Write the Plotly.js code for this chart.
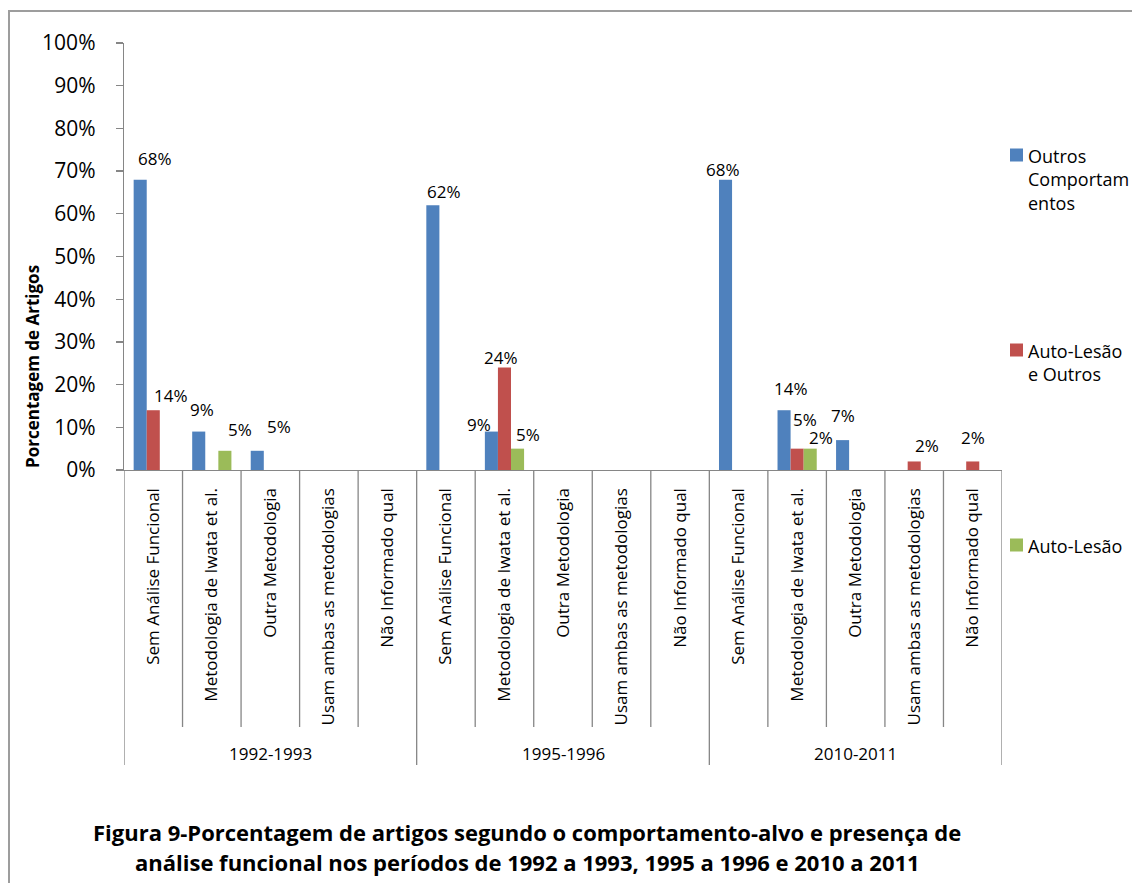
<!DOCTYPE html>
<html>
<head>
<meta charset="utf-8">
<script src="https://cdn.plot.ly/plotly-3.0.1.min.js"></script>
<style>
html,body{margin:0;padding:0;background:#fff;}
#chart{width:1132px;height:883px;}
</style>
</head>
<body>
<div id="chart"></div>
<script>
// ---- data ----
const groups = ['1992-1993', '1995-1996', '2010-2011'];
const methods = ['Sem Análise Funcional', 'Metodologia de Iwata et al.', 'Outra Metodologia', 'Usam ambas as metodologias', 'Não Informado qual'];
const seriesNames = ['Outros Comportamentos', 'Auto-Lesão e Outros', 'Auto-Lesão'];
const legendLabels = ['Outros<br>Comportam<br>entos', 'Auto-Lesão<br>e Outros', 'Auto-Lesão'];
const outros     = [68, 9, 4.5, 0, 0,   62, 9, 0, 0, 0,   68, 14, 7, 0, 0];
const autoOutros = [14, 0, 0, 0, 0,    0, 24, 0, 0, 0,    0, 5, 0, 2, 2];
const autoLesao  = [0, 4.5, 0, 0, 0,   0, 5, 0, 0, 0,    0, 5, 0, 0, 0];
const outrosLabels     = ['68%', '9%', '5%', '', '',  '62%', '9%', '', '', '',  '68%', '14%', '7%', '', ''];
const autoOutrosLabels = ['14%', '', '', '', '',     '', '24%', '', '', '',    '', '5%', '', '2%', '2%'];
const autoLesaoLabels  = ['', '5%', '', '', '',      '', '5%', '', '', '',     '', '2%', '', '', ''];
const yTickVals = [0, 10, 20, 30, 40, 50, 60, 70, 80, 90, 100];
const yTickText = ['0%', '10%', '20%', '30%', '40%', '50%', '60%', '70%', '80%', '90%', '100%'];

// ---- styles / layout constants ----
const colors = ['#4F81BD', '#C0504D', '#9BBB59'];
const axisColor = '#868686';
const frameColor = '#9d9d9d';
const FONT = 'Open Sans, Liberation Sans, sans-serif';
const plotL = 124, plotR = 1002, plotT = 43, plotB = 470;
const W = 1132, H = 883;
const pw = plotR - plotL, ph = plotB - plotT;
const px2x = p => (p - plotL) / pw;
const px2y = p => (plotB - p) / ph;
const bargap = 0.33;
// manual label nudges [dx, dy] in px (like Excel's hand-placed labels)
const labelShift = [
  {0: [15, 21], 1: [3, 22], 2: [22, 24], 5: [11, 14], 6: [-12, 7], 10: [-3, 10], 11: [7, 22], 12: [0, 25]},
  {0: [18, 15], 6: [-3, 10], 11: [8, 29], 13: [13, 16], 14: [0, 24]},
  {1: [15, 21], 6: [10, 14], 11: [11, 11]}
];

const nCat = groups.length * methods.length;
const xs = [];
const tickText = [];
for (let g = 0; g < groups.length; g++) {
  for (let m = 0; m < methods.length; m++) { xs.push(g * methods.length + m); tickText.push(methods[m]); }
}
const values = [outros, autoOutros, autoLesao];
const labels = [outrosLabels, autoOutrosLabels, autoLesaoLabels];

const traces = values.map((v, k) => ({
  type: 'bar', x: xs, y: v, name: seriesNames[k],
  marker: {color: colors[k], line: {width: 0}},
  showlegend: false, hoverinfo: 'skip'
}));

const annotations = [];
const barW = (1 - bargap) / values.length;
values.forEach((v, k) => {
  const off = (k - (values.length - 1) / 2) * barW;
  labels[k].forEach((t, i) => {
    if (!t) return;
    const s = labelShift[k][i] || [0, 15];
    annotations.push({
      x: xs[i] + off, y: v[i], xref: 'x', yref: 'y', text: t, showarrow: false,
      xanchor: 'center', yanchor: 'middle', xshift: s[0], yshift: s[1],
      font: {family: FONT, size: 17, color: '#000'}
    });
  });
});

// group labels
groups.forEach((g, gi) => {
  annotations.push({
    x: gi * methods.length + (methods.length - 1) / 2, y: px2y(753), xref: 'x', yref: 'paper',
    text: g, showarrow: false, xanchor: 'center', yanchor: 'middle',
    font: {family: FONT, size: 17, color: '#000'}
  });
});

// y axis title
annotations.push({
  x: px2x(32), y: px2y(367), xref: 'paper', yref: 'paper', text: '<b>Porcentagem de Artigos</b>',
  textangle: -90, showarrow: false, xanchor: 'center', yanchor: 'middle',
  font: {family: FONT, size: 17, color: '#000'}
});

// caption (figure title)
const captionLines = ['Figura 9-Porcentagem de artigos segundo o comportamento-alvo e presença de',
                      'análise funcional nos períodos de 1992 a 1993, 1995 a 1996 e 2010 a 2011'];
const captionY = [832, 862];
captionLines.forEach((t, i) => {
  annotations.push({
    x: px2x(527), y: px2y(captionY[i]), xref: 'paper', yref: 'paper', text: '<b>' + t + '</b>',
    showarrow: false, xanchor: 'center', yanchor: 'middle',
    font: {family: FONT, size: 22, color: '#000'}
  });
});

// legend (manual, Excel-like spacing)
const legendY = [155, 350, 545];
const shapes = [];
legendLabels.forEach((t, k) => {
  shapes.push({type: 'rect', xref: 'paper', yref: 'paper',
    x0: px2x(1010), x1: px2x(1023), y0: px2y(legendY[k] - 6.5), y1: px2y(legendY[k] + 6.5),
    fillcolor: colors[k], line: {width: 0}});
  annotations.push({
    x: px2x(1026), y: px2y(legendY[k] - 13), xref: 'paper', yref: 'paper', text: t,
    showarrow: false, xanchor: 'left', yanchor: 'top', align: 'left',
    font: {family: FONT, size: 18, color: '#000'}
  });
});

// category dividers
for (let b = 0; b <= nCat; b++) {
  const isGroup = (b % methods.length === 0);
  shapes.push({type: 'line', xref: 'x', yref: 'paper', x0: b - 0.5, x1: b - 0.5,
    y0: 0, y1: isGroup ? px2y(765) : px2y(727), line: {color: axisColor, width: 1.3}});
}

// outer chart frame: left edge and top edge (right/bottom fall outside the picture)
shapes.push({type: 'path', xref: 'paper', yref: 'paper', layer: 'above',
  path: 'M ' + px2x(9) + ' ' + px2y(H + 10) + ' L ' + px2x(9) + ' ' + px2y(11) + ' L ' + px2x(W + 10) + ' ' + px2y(11),
  line: {color: frameColor, width: 2}});

const layout = {
  width: W, height: H,
  margin: {l: plotL, r: W - plotR, t: plotT, b: H - plotB, pad: 0},
  paper_bgcolor: '#fff', plot_bgcolor: '#fff',
  barmode: 'group', bargap: bargap, bargroupgap: 0,
  font: {family: FONT, color: '#000'},
  xaxis: {
    range: [-0.5, nCat - 0.5], tickmode: 'array', tickvals: xs, ticktext: tickText,
    tickangle: -90, ticks: '', showgrid: false, zeroline: false,
    showline: true, linecolor: axisColor, linewidth: 1.3,
    tickfont: {family: FONT, size: 17, color: '#000'}, ticklabelstandoff: 10, fixedrange: true
  },
  yaxis: {
    range: [0, 100], tickmode: 'array', tickvals: yTickVals, ticktext: yTickText,
    ticks: 'outside', ticklen: 7, tickcolor: axisColor, tickwidth: 1.3,
    showgrid: false, zeroline: false, showline: true, linecolor: axisColor, linewidth: 1.3,
    tickfont: {family: FONT, size: 21, color: '#000'}, ticklabelstandoff: 16, fixedrange: true
  },
  annotations: annotations,
  shapes: shapes,
  showlegend: false
};

Plotly.newPlot('chart', traces, layout, {staticPlot: true, displayModeBar: false});
</script>
</body>
</html>
